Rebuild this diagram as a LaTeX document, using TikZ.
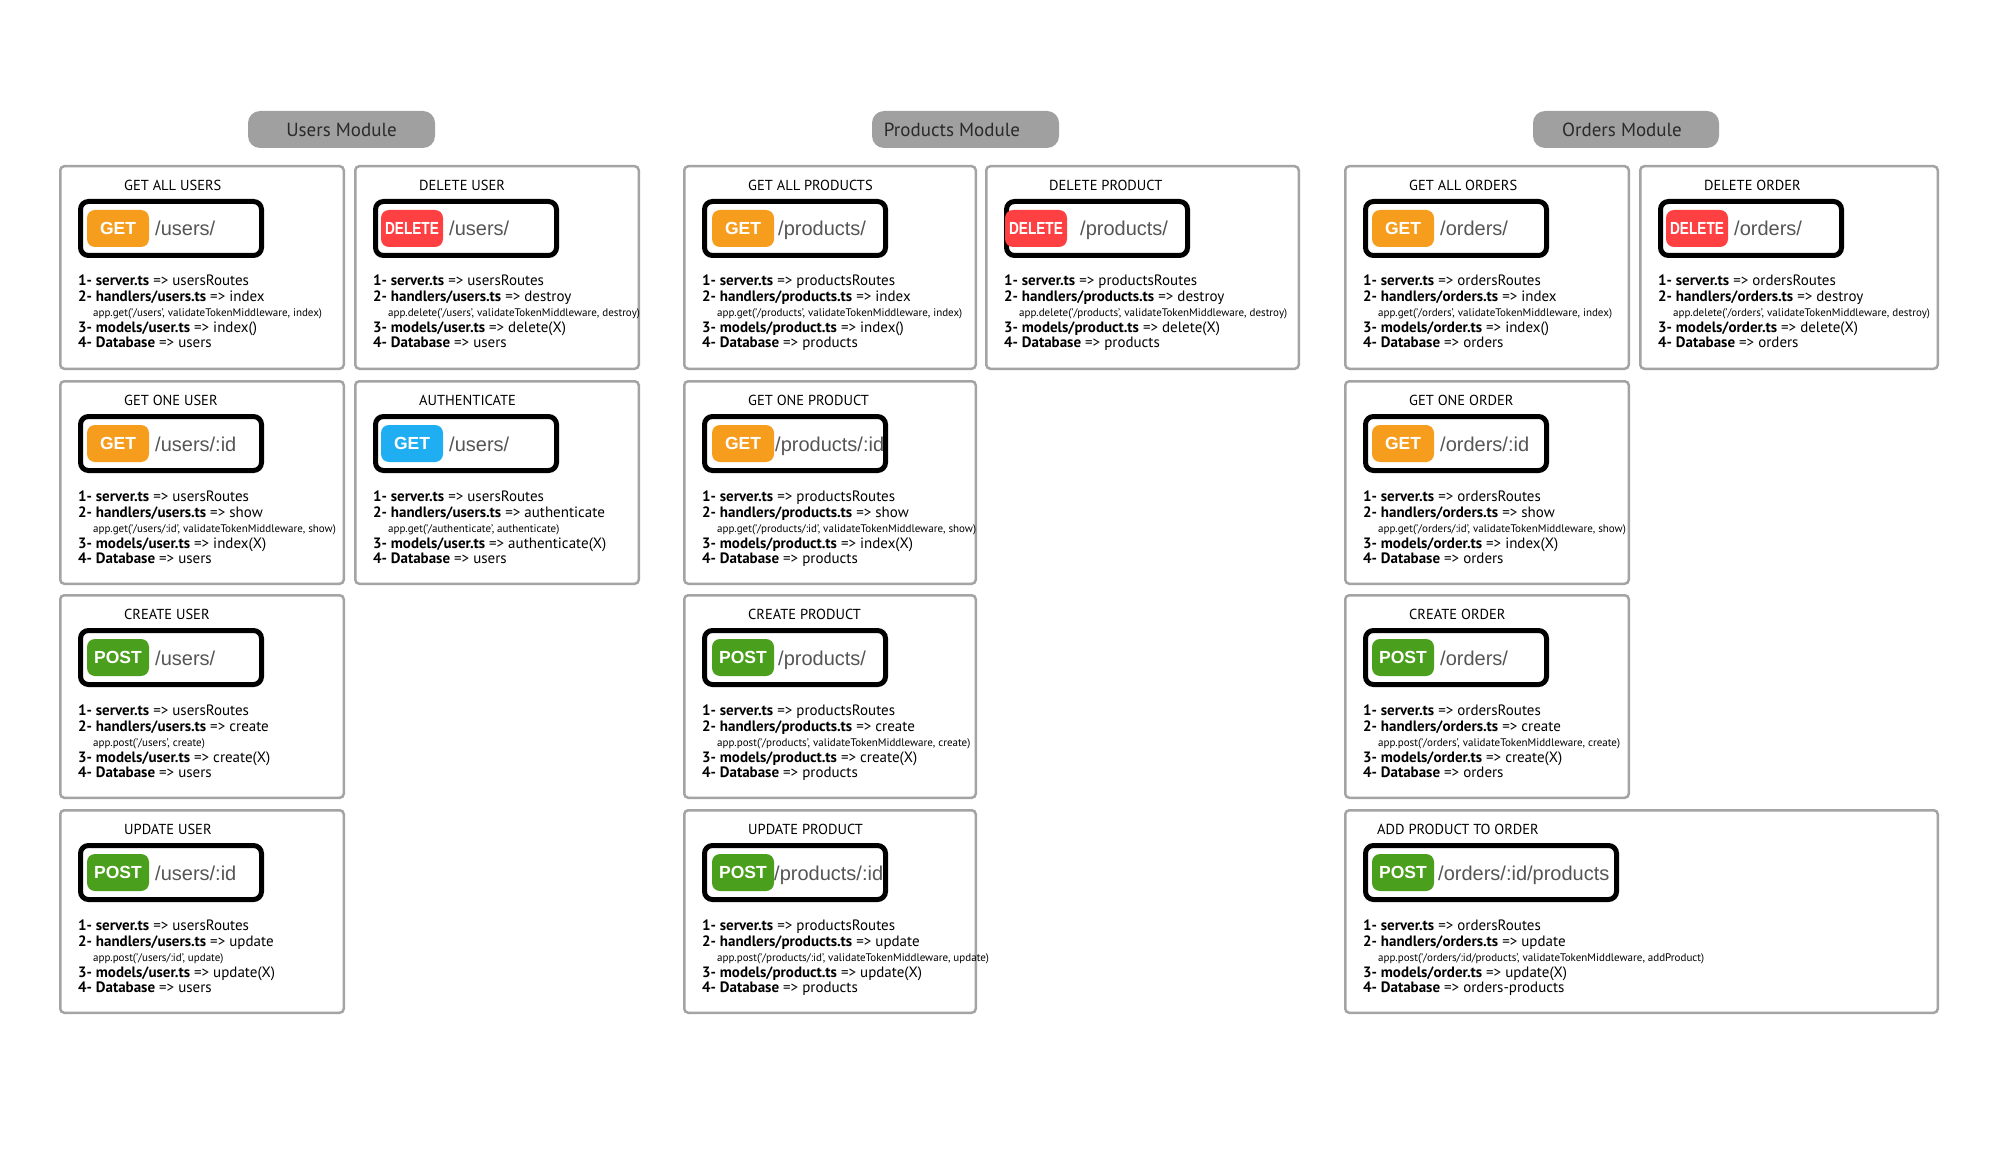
\documentclass[tikz,border=0pt]{standalone}
\usepackage{fontspec}
\usepackage{graphicx}
\setmainfont{PT Sans}
\newfontfamily\epfont{Liberation Sans}
\definecolor{getc}{HTML}{F79D1E}
\definecolor{delc}{HTML}{FE4043}
\definecolor{postc}{HTML}{4A9F1C}
\definecolor{authc}{HTML}{20AEF3}
\definecolor{cardgray}{HTML}{A4A4A4}
\definecolor{pillgray}{HTML}{A0A0A0}
\definecolor{pathgray}{HTML}{555555}
\definecolor{textdark}{HTML}{2A2A2A}
\newcommand\B[1]{\textbf{#1}}
\newcommand\DEL{\scalebox{0.78}[1]{DELETE}}
\tikzset{
  cardframe/.style={draw=cardgray, line width=2.5pt, rounded corners=4pt, fill=white, inner sep=0pt, outer sep=0pt},
  ttl/.style={font=\fontsize{14.5}{17}\selectfont, inner sep=0pt, text=black},
  epbox/.style={draw=black, line width=5pt, rounded corners=8pt, fill=white, inner sep=0pt, outer sep=0pt},
  badge/.style={rounded corners=8pt, minimum width=62pt, minimum height=37pt, inner sep=0pt, outer sep=0pt, text=white, font=\epfont\bfseries\fontsize{17.5}{20}\selectfont},
  pathtxt/.style={text=pathgray, font=\epfont\fontsize{20}{22}\selectfont, inner sep=0pt},
  ln/.style={font=\fontsize{15}{17}\selectfont, inner sep=0pt, text=black},
  appln/.style={font=\fontsize{11}{12}\selectfont, inner sep=0pt, text=black},
  modpill/.style={fill=pillgray, rounded corners=12pt, minimum height=37pt, inner sep=0pt},
  modtext/.style={inner sep=0pt, text=textdark, font=\fontsize{19}{22}\selectfont},
}
\newcommand\cardbox[4]{\def\cL{#2}\def\cT{#3}%
  \node[cardframe, minimum width={(#4-2.5)*1pt}, minimum height=202.5pt, anchor=north west] (#1) at ({#2+1.25},{#3+1.25}) {};}
\newcommand\cardtitle[3]{\node[ttl, anchor=west] (#1-t) at ({\cL+#2},{\cT+20}) {#3};}
\newcommand\epnt[7]{%
  \node[epbox, minimum width={(#2-5)*1pt}, minimum height=54pt, anchor=north west] (#1-e) at ({\cL+21.5},{\cT+36.5}) {};
  \node[badge, fill=#4, anchor=north west] (#1-m) at ({\cL+#3},{\cT+45}) {#5};
  \node[pathtxt, anchor=base west] (#1-p) at ({\cL+#6},{\cT+71}) {#7};}
\newcommand\cardlines[6]{%
  \node[ln, anchor=base west] (#1-a) at ({\cL+19},{\cT+121}) {#2};
  \node[ln, anchor=base west] (#1-b) at ({\cL+19},{\cT+137}) {#3};
  \node[appln, anchor=base west] (#1-c) at ({\cL+34},{\cT+152}) {#4};
  \node[ln, anchor=base west] (#1-d) at ({\cL+19},{\cT+168}) {#5};
  \node[ln, anchor=base west] (#1-f) at ({\cL+19},{\cT+183}) {#6};}
\begin{document}
\begin{tikzpicture}[x=1pt,y=-1pt]
\fill[white] (0,0) rectangle (2000,1150);
\useasboundingbox (0,0) rectangle (2000,1150);
% module headers
\node[modpill, minimum width=187pt] (usersmod) at (341.5,129.5) {};
\node[modtext] (usersmod-t) at (341.5,129.5) {Users Module};
\node[modpill, minimum width=187pt] (productsmod) at (965.5,129.5) {};
\node[modtext] (productsmod-t) at (952,129.5) {Products Module};
\node[modpill, minimum width=186pt] (ordersmod) at (1626,129.5) {};
\node[modtext] (ordersmod-t) at (1622,129.5) {Orders Module};
% ---------------- Users ----------------
\cardbox{ua}{59}{165}{286}
\cardtitle{ua}{65}{GET ALL USERS}
\epnt{ua}{186}{28}{getc}{GET}{96}{/users/}
\cardlines{ua}{\B{1- server.ts} => usersRoutes}{\B{2- handlers/users.ts} => index}{app.get('/users', validateTokenMiddleware, index)}{\B{3- models/user.ts} => index()}{\B{4- Database} => users}
\cardbox{ub}{59}{380}{286}
\cardtitle{ub}{65}{GET ONE USER}
\epnt{ub}{186}{28}{getc}{GET}{96}{/users/:id}
\cardlines{ub}{\B{1- server.ts} => usersRoutes}{\B{2- handlers/users.ts} => show}{app.get('/users/:id', validateTokenMiddleware, show)}{\B{3- models/user.ts} => index(X)}{\B{4- Database} => users}
\cardbox{uc}{59}{594}{286}
\cardtitle{uc}{65}{CREATE USER}
\epnt{uc}{186}{28}{postc}{POST}{96}{/users/}
\cardlines{uc}{\B{1- server.ts} => usersRoutes}{\B{2- handlers/users.ts} => create}{app.post('/users', create)}{\B{3- models/user.ts} => create(X)}{\B{4- Database} => users}
\cardbox{ud}{59}{809}{286}
\cardtitle{ud}{65}{UPDATE USER}
\epnt{ud}{186}{28}{postc}{POST}{96}{/users/:id}
\cardlines{ud}{\B{1- server.ts} => usersRoutes}{\B{2- handlers/users.ts} => update}{app.post('/users/:id', update)}{\B{3- models/user.ts} => update(X)}{\B{4- Database} => users}
\cardbox{ue}{354}{165}{286}
\cardtitle{ue}{65}{DELETE USER}
\epnt{ue}{186}{27}{delc}{\DEL}{95}{/users/}
\cardlines{ue}{\B{1- server.ts} => usersRoutes}{\B{2- handlers/users.ts} => destroy}{app.delete('/users', validateTokenMiddleware, destroy)}{\B{3- models/user.ts} => delete(X)}{\B{4- Database} => users}
\cardbox{uf}{354}{380}{286}
\cardtitle{uf}{65}{AUTHENTICATE}
\epnt{uf}{186}{27}{authc}{GET}{95}{/users/}
\cardlines{uf}{\B{1- server.ts} => usersRoutes}{\B{2- handlers/users.ts} => authenticate}{app.get('/authenticate', authenticate)}{\B{3- models/user.ts} => authenticate(X)}{\B{4- Database} => users}
% ---------------- Products ----------------
\cardbox{pa}{683}{165}{294}
\cardtitle{pa}{65}{GET ALL PRODUCTS}
\epnt{pa}{186}{29}{getc}{GET}{95}{/products/}
\cardlines{pa}{\B{1- server.ts} => productsRoutes}{\B{2- handlers/products.ts} => index}{app.get('/products', validateTokenMiddleware, index)}{\B{3- models/product.ts} => index()}{\B{4- Database} => products}
\cardbox{pb}{683}{380}{294}
\cardtitle{pb}{65}{GET ONE PRODUCT}
\epnt{pb}{186}{29}{getc}{GET}{92}{/products/:id}
\cardlines{pb}{\B{1- server.ts} => productsRoutes}{\B{2- handlers/products.ts} => show}{app.get('/products/:id', validateTokenMiddleware, show)}{\B{3- models/product.ts} => index(X)}{\B{4- Database} => products}
\cardbox{pc}{683}{594}{294}
\cardtitle{pc}{65}{CREATE PRODUCT}
\epnt{pc}{186}{29}{postc}{POST}{95}{/products/}
\cardlines{pc}{\B{1- server.ts} => productsRoutes}{\B{2- handlers/products.ts} => create}{app.post('/products', validateTokenMiddleware, create)}{\B{3- models/product.ts} => create(X)}{\B{4- Database} => products}
\cardbox{pd}{683}{809}{294}
\cardtitle{pd}{65}{UPDATE PRODUCT}
\epnt{pd}{186}{29}{postc}{POST}{91}{/products/:id}
\cardlines{pd}{\B{1- server.ts} => productsRoutes}{\B{2- handlers/products.ts} => update}{app.post('/products/:id', validateTokenMiddleware, update)}{\B{3- models/product.ts} => update(X)}{\B{4- Database} => products}
\cardbox{pe}{985}{165}{315}
\cardtitle{pe}{64}{DELETE PRODUCT}
\epnt{pe}{186}{20}{delc}{\DEL}{95}{/products/}
\cardlines{pe}{\B{1- server.ts} => productsRoutes}{\B{2- handlers/products.ts} => destroy}{app.delete('/products', validateTokenMiddleware, destroy)}{\B{3- models/product.ts} => delete(X)}{\B{4- Database} => products}
% ---------------- Orders ----------------
\cardbox{oa}{1344}{165}{286}
\cardtitle{oa}{65}{GET ALL ORDERS}
\epnt{oa}{186}{28}{getc}{GET}{96}{/orders/}
\cardlines{oa}{\B{1- server.ts} => ordersRoutes}{\B{2- handlers/orders.ts} => index}{app.get('/orders', validateTokenMiddleware, index)}{\B{3- models/order.ts} => index()}{\B{4- Database} => orders}
\cardbox{ob}{1344}{380}{286}
\cardtitle{ob}{65}{GET ONE ORDER}
\epnt{ob}{186}{28}{getc}{GET}{96}{/orders/:id}
\cardlines{ob}{\B{1- server.ts} => ordersRoutes}{\B{2- handlers/orders.ts} => show}{app.get('/orders/:id', validateTokenMiddleware, show)}{\B{3- models/order.ts} => index(X)}{\B{4- Database} => orders}
\cardbox{oc}{1344}{594}{286}
\cardtitle{oc}{65}{CREATE ORDER}
\epnt{oc}{186}{28}{postc}{POST}{96}{/orders/}
\cardlines{oc}{\B{1- server.ts} => ordersRoutes}{\B{2- handlers/orders.ts} => create}{app.post('/orders', validateTokenMiddleware, create)}{\B{3- models/order.ts} => create(X)}{\B{4- Database} => orders}
\cardbox{od}{1344}{809}{595}
\cardtitle{od}{33}{ADD PRODUCT TO ORDER}
\epnt{od}{256}{28}{postc}{POST}{94}{/orders/:id/products}
\cardlines{od}{\B{1- server.ts} => ordersRoutes}{\B{2- handlers/orders.ts} => update}{app.post('/orders/:id/products', validateTokenMiddleware, addProduct)}{\B{3- models/order.ts} => update(X)}{\B{4- Database} => orders-products}
\cardbox{oe}{1639}{165}{300}
\cardtitle{oe}{65}{DELETE ORDER}
\epnt{oe}{186}{27}{delc}{\DEL}{95}{/orders/}
\cardlines{oe}{\B{1- server.ts} => ordersRoutes}{\B{2- handlers/orders.ts} => destroy}{app.delete('/orders', validateTokenMiddleware, destroy)}{\B{3- models/order.ts} => delete(X)}{\B{4- Database} => orders}
\end{tikzpicture}
\end{document}
